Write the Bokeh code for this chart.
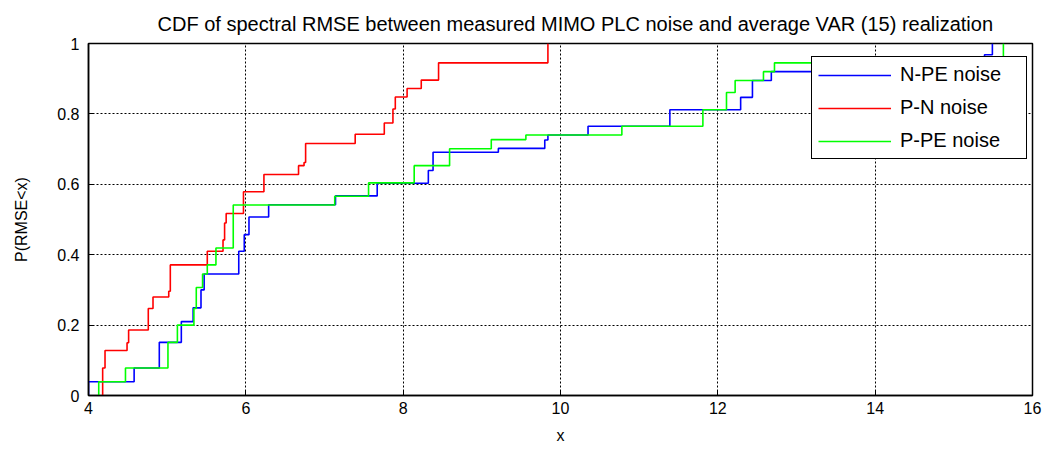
from bokeh.plotting import figure
from bokeh.models import Range1d, FixedTicker, Legend, LegendItem
from bokeh.embed import file_html
from bokeh.resources import INLINE

title_text = "CDF of spectral RMSE between measured MIMO PLC noise and average VAR (15) realization"
x_label = "x"
y_label = "P(RMSE<x)"

x_ticks = [4, 6, 8, 10, 12, 14, 16]
y_ticks = [0, 0.2, 0.4, 0.6, 0.8, 1]
y_tick_labels = ["0", "0.2", "0.4", "0.6", "0.8", "1"]

series_names = ["N-PE noise", "P-N noise", "P-PE noise"]
series_colors = ["#0000FF", "#FF0000", "#00FF00"]

# N-PE noise: jump locations and CDF value after each jump
npe_x = [4.0, 4.58, 4.90, 5.18, 5.33, 5.43, 5.47, 5.91, 5.98, 6.04, 6.29, 7.14, 7.67,
         8.32, 8.38, 9.21, 9.80, 9.84, 10.35, 11.39, 12.29, 12.44, 12.68, 13.6, 15.39, 15.49]
npe_y = [0.039, 0.078, 0.151, 0.210, 0.249, 0.300, 0.345, 0.410, 0.457, 0.507, 0.542, 0.567, 0.603,
         0.639, 0.691, 0.702, 0.726, 0.740, 0.765, 0.812, 0.847, 0.895, 0.920, 0.945, 0.968, 1.0]

# P-N noise
pn_x = [4.18, 4.21, 4.49, 4.51, 4.76, 4.82, 5.02, 5.04, 5.51, 5.71, 5.73, 5.75, 5.97, 6.23,
        6.67, 6.74, 6.76, 7.39, 7.76, 7.87, 7.90, 8.05, 8.23, 8.45, 9.84]
pn_y = [0.078, 0.128, 0.150, 0.186, 0.247, 0.280, 0.296, 0.371, 0.410, 0.442, 0.490, 0.517, 0.579, 0.628,
        0.653, 0.662, 0.716, 0.742, 0.774, 0.814, 0.848, 0.872, 0.896, 0.945, 1.0]

# P-PE noise
ppe_x = [4.13, 4.47, 5.01, 5.13, 5.34, 5.37, 5.45, 5.51, 5.62, 5.84, 7.13, 7.56, 8.14, 8.59,
         9.12, 9.56, 10.78, 11.81, 12.11, 12.22, 12.58, 12.72, 15.63]
ppe_y = [0.039, 0.078, 0.151, 0.200, 0.247, 0.307, 0.345, 0.371, 0.419, 0.541, 0.566, 0.604, 0.653, 0.701,
         0.727, 0.740, 0.765, 0.812, 0.861, 0.895, 0.920, 0.945, 1.0]

FONT = "Liberation Sans"

p = figure(width=1044, height=447, x_range=Range1d(4, 16), y_range=Range1d(0, 1),
           output_backend="svg", toolbar_location=None, title=title_text,
           min_border_left=88, min_border_right=12, min_border_top=43, min_border_bottom=52)

p.title.text_font = FONT
p.title.text_font_size = "20px"
p.title.text_font_style = "normal"
p.title.align = "left"
p.title.offset = 69
p.title.text_color = "black"
p.title.standoff = 17

p.outline_line_color = "black"
p.outline_line_width = 1.5
p.outline_line_alpha = 1

for ax in (p.xaxis[0], p.yaxis[0]):
    ax.axis_line_color = "black"
    ax.axis_line_width = 1.5
    ax.major_tick_in = 5
    ax.major_tick_out = 0
    ax.minor_tick_in = 0
    ax.minor_tick_out = 0
    ax.major_tick_line_color = "black"
    ax.major_label_text_font = FONT
    ax.major_label_text_font_size = "16px"
    ax.major_label_text_color = "black"
    ax.axis_label_text_font = FONT
    ax.axis_label_text_font_size = "16px"
    ax.axis_label_text_font_style = "normal"
    ax.axis_label_text_color = "black"

p.xaxis.ticker = FixedTicker(ticks=x_ticks)
p.yaxis.ticker = FixedTicker(ticks=y_ticks)
p.yaxis.major_label_overrides = {t: s for t, s in zip(y_ticks, y_tick_labels)}
p.xaxis.axis_label = x_label
p.yaxis.axis_label = y_label
p.xaxis.major_label_standoff = 6
p.xaxis.axis_label_standoff = 10
p.yaxis.major_label_standoff = 9
p.yaxis.axis_label_standoff = 24

for g in (p.xgrid[0], p.ygrid[0]):
    g.grid_line_color = "black"
    g.grid_line_dash = "2 2"
    g.grid_line_width = 1
    g.grid_line_alpha = 1

renderers = []
for xs, ys, c in ((npe_x, npe_y, series_colors[0]), (pn_x, pn_y, series_colors[1]), (ppe_x, ppe_y, series_colors[2])):
    r = p.step([xs[0]] + xs, [0] + ys, mode="after", line_color=c, line_width=1.6)
    renderers.append(r)

legend = Legend(items=[LegendItem(label=n, renderers=[r]) for n, r in zip(series_names, renderers)],
                location=(723, 236))
legend.label_text_font = FONT
legend.label_text_font_size = "20px"
legend.label_text_color = "black"
legend.glyph_width = 73
legend.glyph_height = 20
legend.label_height = 20
legend.label_width = 120
legend.label_standoff = 9
legend.padding = 6
legend.spacing = 10
legend.border_line_color = "black"
legend.border_line_width = 1.5
legend.border_line_alpha = 1
legend.background_fill_color = "white"
legend.background_fill_alpha = 1
p.add_layout(legend)

open("out.html", "w").write(file_html(p, INLINE))
